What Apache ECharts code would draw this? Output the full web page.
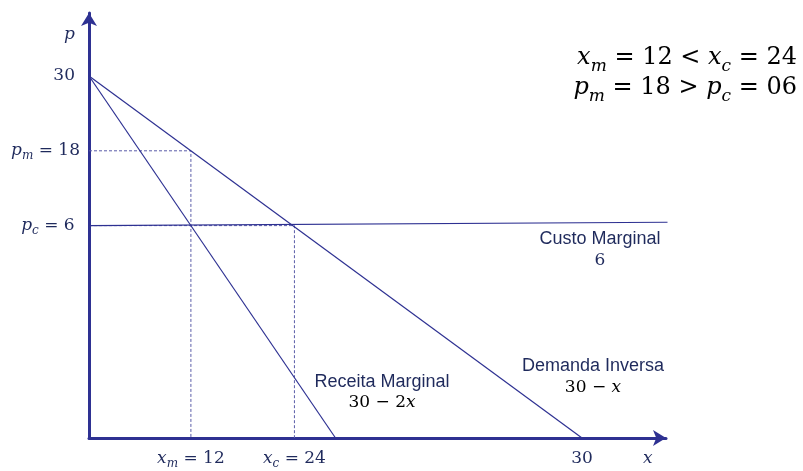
<!DOCTYPE html>
<html>
<head>
<meta charset="utf-8">
<script src="https://cdn.jsdelivr.net/npm/echarts@6/dist/echarts.min.js"></script>
<style>
  html, body { margin: 0; padding: 0; background: #ffffff; }
  #chart { width: 803px; height: 471px; }
</style>
</head>
<body>
<div id="chart"></div>
<script>
// Schematic coordinates as drawn (the picture is not to scale)
const demandCurve = [[0, 30], [30, 0]];          // Demanda Inversa 30 - x
const revenueCurve = [[0, 30], [15, 0]];         // Receita Marginal 30 - 2x
const costCurve = [[0, 17.6], [35.2, 17.88]];    // Custo Marginal 6
const monopolyGuide = [[0, 23.8], [6.2, 23.8], [6.2, 0]];
const competitiveGuide = [[0, 17.6], [12.5, 17.6], [12.5, 0]];

const xTickValues = [6.2, 12.5, 30, 34];
const xTickLabels = ['{v|x}{s|m}{n| = 12}', '{v|x}{s|c}{n| = 24}', '{n|30}', '{v|x}'];
const yTickValues = [17.6, 23.8, 30, 33.4];
const yTickLabels = ['{v|p}{s|c}{n| = 6 }', '{v|p}{s|m}{n| = 18}', '{n|30}{g|}', '{v|p}{g|}'];

const lineColor = '#2e3192';
const guideColor = '#5a5ca8';
const textColor = '#1f2a5c';
const mathFont = 'DejaVu Serif';

function mathRich(size) {
  return {
    v: { fontFamily: mathFont, fontStyle: 'italic', fontSize: size, color: textColor, lineHeight: size + 6 },
    s: { fontFamily: mathFont, fontStyle: 'italic', fontSize: Math.round(size * 0.72), color: textColor,
         lineHeight: Math.round(size * 0.72), verticalAlign: 'top', padding: [Math.round(size * 0.62), 0, 0, 0] },
    n: { fontFamily: mathFont, fontSize: size, color: textColor, lineHeight: size + 6 },
    g: { width: 5, fontSize: size, lineHeight: size + 6 }
  };
}

const chart = echarts.init(document.getElementById('chart'), null, { renderer: 'canvas' });

function guideSeries(data) {
  return {
    type: 'line', data: data, symbol: 'none', silent: true, clip: false,
    lineStyle: { color: guideColor, width: 1, type: [3, 2] }, z: 2
  };
}
function curveSeries(data) {
  return {
    type: 'line', data: data, symbol: 'none', silent: true, clip: false,
    lineStyle: { color: lineColor, width: 1.2 }, z: 3
  };
}

const option = {
  backgroundColor: '#ffffff',
  animation: false,
  grid: { left: 89, right: 137, top: 13, bottom: 33, containLabel: false },
  xAxis: {
    type: 'value', min: 0, max: 35.11,
    splitLine: { show: false },
    axisTick: { show: false },
    axisLine: { onZero: false, symbol: ['none', 'arrow'], symbolSize: [12, 13],
                lineStyle: { color: lineColor, width: 3 } },
    axisLabel: {
      customValues: xTickValues, margin: 9,
      formatter: function (v) { return xTickLabels[xTickValues.indexOf(v)] || ''; },
      rich: mathRich(17)
    }
  },
  yAxis: {
    type: 'value', min: 0, max: 35.22,
    splitLine: { show: false },
    axisTick: { show: false },
    axisLine: { onZero: false, symbol: ['none', 'arrow'], symbolSize: [12, 13],
                lineStyle: { color: lineColor, width: 3 } },
    axisLabel: {
      customValues: yTickValues, margin: 9,
      formatter: function (v) { return yTickLabels[yTickValues.indexOf(v)] || ''; },
      rich: mathRich(17)
    }
  },
  series: [
    guideSeries(monopolyGuide),
    guideSeries(competitiveGuide),
    curveSeries(costCurve),
    curveSeries(demandCurve),
    curveSeries(revenueCurve)
  ],
  graphic: [
    { type: 'text', right: 6, top: 43, z: 10,
      style: { text: '{v|x}{s|m}{n| = 12 < }{v|x}{s|c}{n| = 24}', rich: mathRich(24), align: 'right' } },
    { type: 'text', right: 6, top: 73, z: 10,
      style: { text: '{v|p}{s|m}{n| = 18 > }{v|p}{s|c}{n| = 06}', rich: mathRich(24), align: 'right' } },
    { type: 'text', x: 600, y: 239, z: 10,
      style: { text: 'Custo Marginal', fontFamily: 'Liberation Sans', fontSize: 18, fill: textColor,
               align: 'center', verticalAlign: 'middle' } },
    { type: 'text', x: 600, y: 261, z: 10,
      style: { text: '6', fontFamily: mathFont, fontSize: 17, fill: textColor,
               align: 'center', verticalAlign: 'middle' } },
    { type: 'text', x: 382, y: 382, z: 10,
      style: { text: 'Receita Marginal', fontFamily: 'Liberation Sans', fontSize: 18, fill: textColor,
               align: 'center', verticalAlign: 'middle' } },
    { type: 'text', x: 382, y: 403, z: 10,
      style: { text: '{n|30 − 2}{v|x}', rich: mathRich(17), align: 'center', verticalAlign: 'middle' } },
    { type: 'text', x: 593, y: 366, z: 10,
      style: { text: 'Demanda Inversa', fontFamily: 'Liberation Sans', fontSize: 18, fill: textColor,
               align: 'center', verticalAlign: 'middle' } },
    { type: 'text', x: 593, y: 388, z: 10,
      style: { text: '{n|30 − }{v|x}', rich: mathRich(17), align: 'center', verticalAlign: 'middle' } }
  ]
};
chart.setOption(option);
</script>
</body>
</html>
